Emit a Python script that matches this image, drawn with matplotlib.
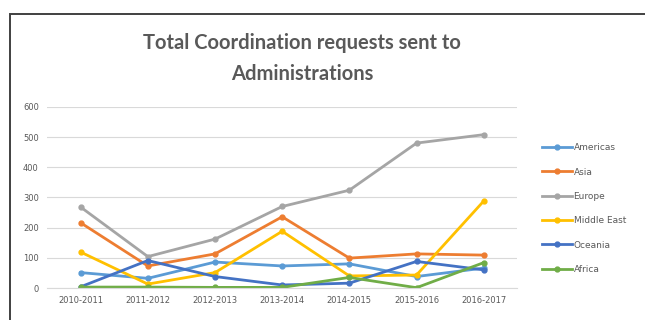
import matplotlib.pyplot as plt
from matplotlib.patches import Rectangle

years = ['2010-2011', '2011-2012', '2012-2013', '2013-2014', '2014-2015', '2015-2016', '2016-2017']
regions = ['Americas', 'Asia', 'Europe', 'Middle East', 'Oceania', 'Africa']
americas = [51, 32, 86, 73, 80, 38, 66]
asia = [216, 73, 113, 236, 99, 113, 109]
europe = [268, 104, 162, 270, 324, 480, 508]
middle_east = [119, 13, 51, 188, 40, 43, 288]
oceania = [4, 91, 38, 10, 16, 88, 60]
africa = [3, 3, 2, 2, 35, 1, 84]
colors = ['#5B9BD5', '#ED7D31', '#A5A5A5', '#FFC000', '#4472C4', '#70AD47']

series = [americas, asia, europe, middle_east, oceania, africa]

fig = plt.figure(figsize=(6.45, 3.2), dpi=100)
fig.patch.set_facecolor('white')
ax = fig.add_axes([0.073, 0.1, 0.729, 0.566])

x = range(len(years))
for name, vals, c in zip(regions, series, colors):
    ax.plot(x, vals, color=c, lw=2.0, marker='o', ms=3.5, label=name)

ax.set_xlim(-0.5, len(years) - 0.5)
ax.set_ylim(0, 600)
ax.set_yticks(range(0, 601, 100))
ax.set_xticks(list(x))
ax.set_xticklabels(years)
ax.grid(axis='y', color='#D9D9D9', lw=0.8)
ax.set_axisbelow(True)
for s in ['top', 'right', 'left']:
    ax.spines[s].set_visible(False)
ax.spines['bottom'].set_color('#D9D9D9')
ax.tick_params(length=0, labelsize=6, labelcolor='#595959', pad=6)

fig.text(0.468, 0.817, 'Total Coordination requests sent to\nAdministrations',
         ha='center', va='center', fontsize=14.5, fontweight='bold',
         color='#595959', family='Lato', linespacing=1.7)

leg = ax.legend(loc='upper left', bbox_to_anchor=(1.04, 0.834), frameon=False,
                fontsize=6.5, labelcolor='#595959', handlelength=3.3,
                labelspacing=1.7, handletextpad=0.15, borderaxespad=0.3)

# outer frame of the chart
fig.add_artist(Rectangle((9.5 / 645, -0.1), 1.1, 1.1 - 13.5 / 320,
                         transform=fig.transFigure, fill=False,
                         edgecolor='#404040', lw=1.4))

fig.savefig('out.png', dpi=100)
